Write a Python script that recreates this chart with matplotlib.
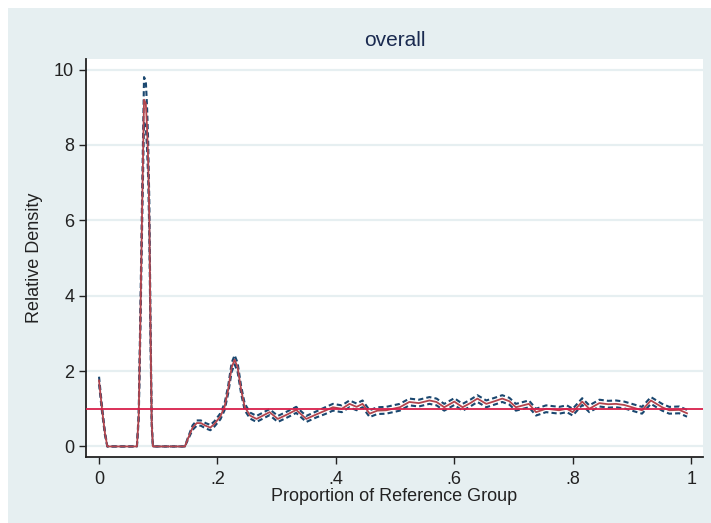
import numpy as np
import matplotlib
matplotlib.use("Agg")
import matplotlib.pyplot as plt
from matplotlib.patches import Rectangle

plt.rcParams['font.family'] = ['Liberation Sans', 'DejaVu Sans']

# relative density
prop = [0.0, 0.005, 0.010, 0.014, 0.064, 0.067, 0.070, 0.073, 0.076, 0.079,
        0.081, 0.083, 0.085, 0.087, 0.089, 0.091, 0.145, 0.150, 0.158, 0.165,
        0.172, 0.180, 0.188, 0.195, 0.205, 0.212, 0.218, 0.224, 0.229, 0.234,
        0.240, 0.246, 0.255, 0.266, 0.288, 0.302, 0.318, 0.333, 0.350, 0.367,
        0.382, 0.395, 0.410, 0.423, 0.435, 0.445, 0.457, 0.470, 0.485, 0.508,
        0.524, 0.540, 0.558, 0.570, 0.583, 0.600, 0.614, 0.627, 0.639, 0.654,
        0.668, 0.681, 0.693, 0.704, 0.726, 0.738, 0.755, 0.777, 0.790, 0.800,
        0.816, 0.828, 0.845, 0.860, 0.873, 0.887, 0.900, 0.917, 0.932, 0.951,
        0.963, 0.980, 0.993]
rel_dens = [1.75, 1.0, 0.35, 0.0, 0.0, 0.8, 3.5, 6.5, 9.2, 9.1,
            8.5, 7.6, 6.0, 3.0, 0.6, 0.0, 0.0, 0.2, 0.5, 0.62,
            0.62, 0.55, 0.5, 0.6, 0.8, 1.05, 1.5, 2.1, 2.3, 2.1,
            1.5, 1.05, 0.82, 0.73, 0.91, 0.73, 0.85, 0.97, 0.73, 0.85,
            0.95, 1.04, 1.0, 1.13, 1.05, 1.13, 0.87, 0.95, 0.96, 1.04,
            1.18, 1.15, 1.22, 1.18, 1.04, 1.19, 1.04, 1.15, 1.27, 1.13,
            1.2, 1.27, 1.2, 1.04, 1.13, 0.91, 1.0, 0.96, 1.0, 0.91,
            1.19, 1.0, 1.15, 1.12, 1.13, 1.1, 1.04, 0.96, 1.22, 1.04,
            0.96, 0.97, 0.88]
# half width of the confidence band around the line
band = [0.1, 0.08, 0.05, 0.0, 0.0, 0.1, 0.3, 0.45, 0.6, 0.6,
        0.55, 0.5, 0.45, 0.3, 0.1, 0.0, 0.0, 0.03, 0.06, 0.07,
        0.07, 0.07, 0.07, 0.07, 0.08, 0.09, 0.1, 0.12, 0.12, 0.12,
        0.1, 0.09, 0.08, 0.08, 0.08, 0.08, 0.08, 0.08, 0.08, 0.08,
        0.09, 0.09, 0.09, 0.09, 0.09, 0.09, 0.09, 0.09, 0.09, 0.09,
        0.09, 0.09, 0.09, 0.09, 0.09, 0.09, 0.09, 0.09, 0.09, 0.09,
        0.09, 0.09, 0.09, 0.09, 0.09, 0.09, 0.09, 0.09, 0.09, 0.09,
        0.09, 0.09, 0.09, 0.09, 0.09, 0.09, 0.09, 0.09, 0.09, 0.09,
        0.09, 0.09, 0.09]

xticks = [0, 0.2, 0.4, 0.6, 0.8, 1]
xtick_labels = ["0", ".2", ".4", ".6", ".8", "1"]
yticks = [0, 2, 4, 6, 8, 10]

bg = "#e6eff1"
x = np.array(prop)
y = np.array(rel_dens)
hw = np.array(band)

fig = plt.figure(figsize=(7.11, 5.23), dpi=100)
fig.patch.set_facecolor("white")
fig.patches.append(Rectangle((8 / 711, 0), 1, 1 - 8 / 523, transform=fig.transFigure,
                             facecolor=bg, edgecolor="none", zorder=-10))

ax = fig.add_axes([86 / 711, 1 - 457 / 523, (703 - 86) / 711, (457 - 59) / 523])
ax.set_facecolor("white")

for yt in yticks:
    ax.axhline(yt, color=bg, lw=1.6, zorder=0)

ax.plot(x, y + hw, color="#1a476f", lw=1.5, ls=(0, (2.5, 1.5)), zorder=2)
ax.plot(x, y - hw, color="#1a476f", lw=1.5, ls=(0, (2.5, 1.5)), zorder=2)
ax.plot(x, y, color="#b3454d", lw=1.3, zorder=3)
ax.axhline(1, color="#d8204b", lw=1.3, zorder=4)

ax.set_xlim(-0.022, 1.02)
ax.set_ylim(-0.28, 10.28)
ax.set_xticks(xticks)
ax.set_xticklabels(xtick_labels)
ax.set_yticks(yticks)
ax.tick_params(axis="both", labelsize=13, length=5, width=1, color="#222222", labelcolor="#222222")
ax.tick_params(axis="x", pad=5)

for s in ["top", "right"]:
    ax.spines[s].set_visible(False)
for s in ["left", "bottom"]:
    ax.spines[s].set_color("#222222")
    ax.spines[s].set_linewidth(1.3)

ax.set_xlabel("Proportion of Reference Group", fontsize=13, color="#222222", labelpad=0)
ax.set_ylabel("Relative Density", fontsize=13, color="#222222", labelpad=8)
ax.set_title("overall", fontsize=15, color="#1a2a50", pad=9)

plt.savefig("out.png", dpi=100, facecolor=fig.get_facecolor())
